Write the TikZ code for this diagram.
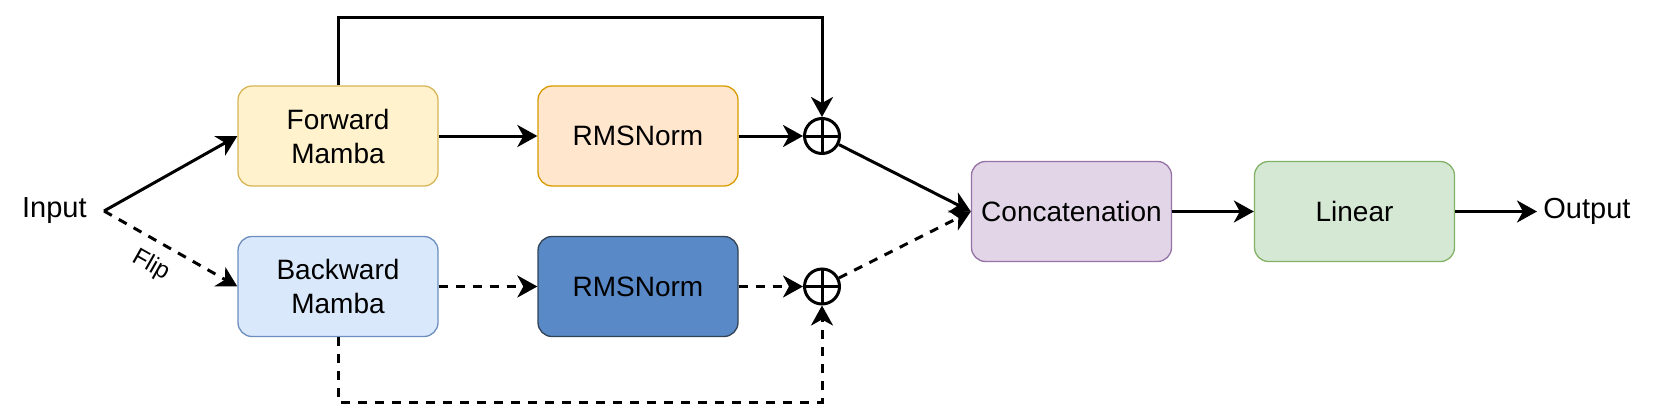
\documentclass[tikz,border=0pt]{standalone}
\usepackage{fontspec}
\setmainfont{Liberation Sans}
\usepackage{tikz}
\usetikzlibrary{arrows.meta}
\usepackage{xcolor}
\definecolor{fwdfill}{RGB}{255,242,204}
\definecolor{fwdline}{RGB}{214,182,86}
\definecolor{normfill}{RGB}{255,230,204}
\definecolor{normline}{RGB}{215,155,0}
\definecolor{bwdfill}{RGB}{218,232,252}
\definecolor{bwdline}{RGB}{108,142,191}
\definecolor{darkfill}{RGB}{90,137,199}
\definecolor{darkline}{RGB}{49,67,84}
\definecolor{catfill}{RGB}{225,213,231}
\definecolor{catline}{RGB}{150,115,166}
\definecolor{linfill}{RGB}{213,232,212}
\definecolor{linline}{RGB}{130,179,102}

\begin{document}
\begin{tikzpicture}[x=0.5pt, y=-0.5pt,
  block/.style={draw, rounded corners=7pt, line width=0.65pt, minimum width=100pt,
    minimum height=50pt, align=center, font=\fontsize{14}{17}\selectfont},
  sumnode/.style={circle, draw, line width=1.5pt, minimum size=17.5pt, inner sep=0pt,
    path picture={\draw[line width=1.5pt]
      (path picture bounding box.north) -- (path picture bounding box.south)
      (path picture bounding box.west) -- (path picture bounding box.east);}},
  flow/.style={line width=1.5pt, -{Stealth[length=10pt, width=11pt, inset=3pt]}},
  flipflow/.style={flow, dash pattern=on 4.5pt off 4pt}]
  \useasboundingbox (0,0) rectangle (1660,418);

  \node[anchor=east, inner xsep=2pt, font=\fontsize{14.5}{17}\selectfont] (input) at (91,211) {Input};
  \node[block, fill=fwdfill, draw=fwdline] (fwd) at (338,136) {Forward\\Mamba};
  \node[block, fill=bwdfill, draw=bwdline] (bwd) at (338,286.5) {Backward\\Mamba};
  \node[block, fill=normfill, draw=normline] (normA) at (638,136) {RMSNorm};
  \node[block, fill=darkfill, draw=darkline] (normB) at (638,286.5) {RMSNorm};
  \node[sumnode] (sumA) at (822,136) {};
  \node[sumnode] (sumB) at (822,286.5) {};
  \node[block, fill=catfill, draw=catline] (concat) at (1071.5,211.5) {Concatenation};
  \node[block, fill=linfill, draw=linline] (linear) at (1354.5,211.5) {Linear};
  \node[anchor=west, inner xsep=3pt, font=\fontsize{14.5}{17}\selectfont] (output) at (1537,211.5) {Output};
  \coordinate (split) at (104,211);

  % forward branch
  \draw[flow] (split) -- (fwd.west);
  \draw[flow] (fwd) -- (normA);
  \draw[flow] (normA) -- (sumA);
  \draw[flow] (fwd.north) -- ++(0,-68) -| (sumA.north);
  \draw[flow] (sumA) -- (concat.west);

  % backward branch
  \draw[flipflow] (split) -- node[pos=0.44, sloped, below=2.5pt, font=\fontsize{12}{14}\selectfont] (flip) {Flip} (bwd.west);
  \draw[flipflow] (bwd) -- (normB);
  \draw[flipflow] (normB) -- (sumB);
  \draw[flipflow] (bwd.south) -- ++(0,65) -| (sumB.south);
  \draw[flipflow] (sumB) -- (concat.west);

  \draw[flow] (concat) -- (linear);
  \draw[flow] (linear) -- (output);
\end{tikzpicture}
\end{document}
